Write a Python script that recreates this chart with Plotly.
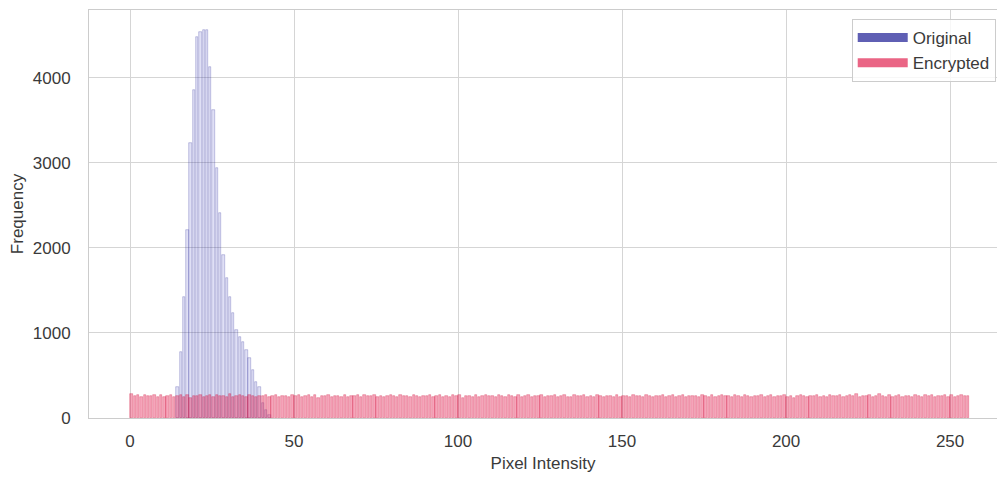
import plotly.graph_objects as go

# ---- data ----
original_levels = [14, 15, 16, 17, 18, 19, 20, 21, 22, 23, 24, 25, 26, 27, 28,
                   29, 30, 31, 32, 33, 34, 35, 36, 37, 38, 39, 40, 41, 42]
original_counts = [365, 776, 1424, 2208, 3232, 3855, 4482, 4541, 4561, 4565, 4129,
                   3620, 2938, 2408, 1914, 1643, 1424, 1231, 1032, 953, 894, 796,
                   700, 560, 424, 365, 180, 90, 40]

encrypted_levels = list(range(256))
encrypted_counts = [
    281, 262, 270, 248, 266, 255, 259, 273, 244, 268, 251, 262, 276, 247, 258, 265,
    252, 269, 241, 263, 257, 274, 249, 260, 266, 243, 271, 255, 262, 250, 278, 246,
    259, 267, 253, 245, 270, 261, 248, 264, 256, 275, 242, 258, 268, 251, 263, 254,
    247, 266, 260, 272, 244, 257, 265, 250, 269, 239, 262, 255, 273, 248, 258, 264,
    251, 270, 246, 261, 257, 266, 243, 268, 254, 260, 275, 249, 263, 245, 259, 267,
    256, 242, 271, 258, 264, 250, 267, 253, 246, 262, 257, 276, 244, 261, 269, 252,
    259, 248, 265, 255, 270, 241, 263, 257, 250, 272, 246, 260, 266, 253, 258, 244,
    268, 256, 249, 274, 261, 245, 265, 252, 259, 270, 243, 263, 257, 267, 248, 261,
    254, 271, 246, 260, 265, 251, 242, 268, 258, 255, 273, 247, 262, 250, 266, 256,
    245, 264, 259, 252, 270, 248, 261, 257, 243, 267, 255, 263, 249, 272, 258, 246,
    262, 253, 268, 244, 259, 266, 250, 257, 271, 247, 264, 255, 261, 242, 269, 258,
    251, 265, 248, 260, 274, 253, 257, 245, 267, 262, 250, 270, 256, 243, 263, 259,
    266, 249, 258, 272, 246, 261, 255, 268, 252, 264, 241, 259, 270, 254, 247, 263,
    257, 275, 250, 262, 244, 266, 258, 253, 269, 248, 260, 265, 256, 279, 246, 261,
    254, 270, 249, 263, 283, 258, 245, 267, 252, 260, 276, 247, 264, 256, 250, 269,
    259, 243, 266, 255, 272, 248, 261, 257, 265, 251, 268, 246, 262, 274, 256, 260,
]

x_ticks = [0, 50, 100, 150, 200, 250]
y_ticks = [0, 1000, 2000, 3000, 4000]

FONT = "Liberation Sans, Arial, sans-serif"
TXT = "#3a3a3a"

fig = go.Figure()

fig.add_trace(go.Bar(
    x=original_levels, y=original_counts, width=0.72, offset=0.12,
    marker=dict(color="rgba(60,60,190,0.16)",
                line=dict(color="rgba(40,40,150,0.42)", width=0.6)),
    showlegend=False, hoverinfo="skip"))

fig.add_trace(go.Bar(
    x=encrypted_levels, y=encrypted_counts, width=0.72, offset=0.12,
    marker=dict(color="rgba(230,40,90,0.42)",
                line=dict(color="rgba(210,30,70,0.55)", width=0.6)),
    showlegend=False, hoverinfo="skip"))

# legend entries (wide rectangular swatches like the reference)
fig.add_trace(go.Scatter(x=[None], y=[None], mode="lines", name="Original",
                         line=dict(color="#5f5fb4", width=9)))
fig.add_trace(go.Scatter(x=[None], y=[None], mode="lines", name="Encrypted",
                         line=dict(color="#ea6585", width=9)))

fig.update_layout(
    width=997, height=480,
    margin=dict(l=89, r=0, t=10, b=62),
    paper_bgcolor="white", plot_bgcolor="white",
    barmode="overlay", bargap=0,
    font=dict(family=FONT, size=17, color=TXT),
    legend=dict(x=0.840, y=0.978, xanchor="left", yanchor="top",
                bgcolor="rgba(255,255,255,0.8)", bordercolor="#cccccc",
                borderwidth=1, font=dict(size=17, color=TXT),
                tracegroupgap=0, itemwidth=50),
)

fig.update_xaxes(
    range=[-12.5, 264.3], tickvals=x_ticks, showgrid=True, gridcolor="#d5d5d5",
    gridwidth=1, zeroline=False, showline=True, mirror=True, linecolor="#cccccc",
    linewidth=1, ticks="", ticklabelstandoff=8,
    title=dict(text="Pixel Intensity", font=dict(size=17, color=TXT), standoff=6),
)
fig.update_yaxes(
    range=[0, 4797], tickvals=y_ticks, showgrid=True, gridcolor="#d5d5d5",
    gridwidth=1, zeroline=False, showline=True, mirror=True, linecolor="#cccccc",
    linewidth=1, ticks="", ticklabelstandoff=14,
    title=dict(text="Frequency", font=dict(size=17, color=TXT), standoff=4),
)

fig.write_html("out.html")
